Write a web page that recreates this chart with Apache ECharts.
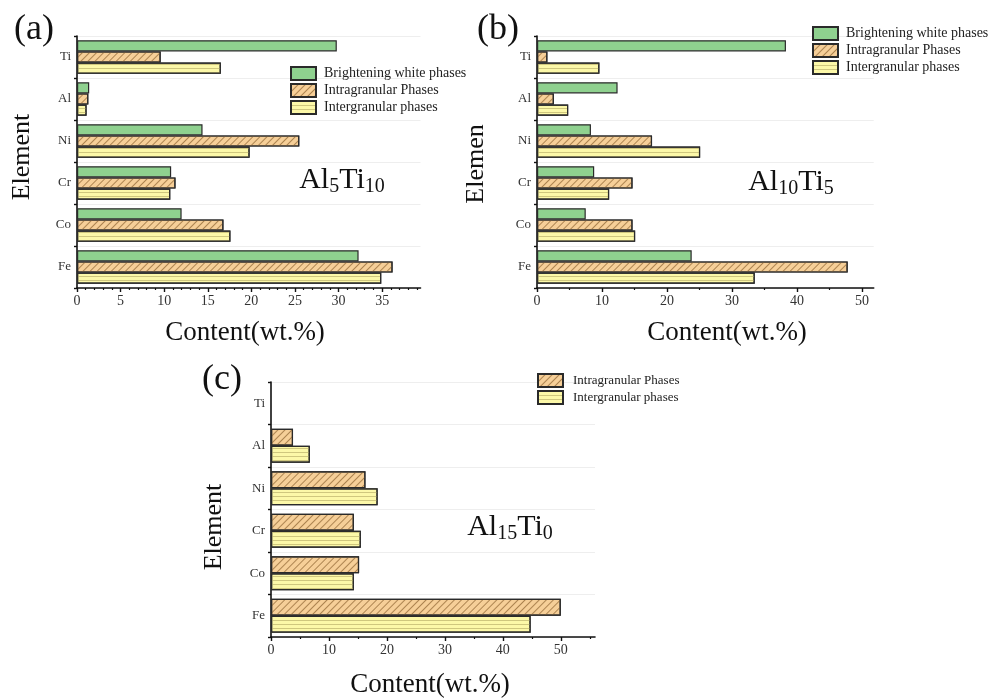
<!DOCTYPE html>
<html><head><meta charset="utf-8">
<script src="https://cdn.jsdelivr.net/npm/echarts@6/dist/echarts.min.js"></script>
<style>html,body{margin:0;padding:0;background:#fff}#c{width:1001px;height:699px}</style>
</head><body><div id="c"></div>
<script>
const categories = ['Fe', 'Co', 'Cr', 'Ni', 'Al', 'Ti'];
const seriesNames = ['Brightening white phases', 'Intragranular Phases', 'Intergranular phases'];
// Panel (a) Al5Ti10
const aWhite = [32.3, 12.0, 10.8, 14.4, 1.4, 29.8];
const aIntra = [36.2, 16.8, 11.3, 25.5, 1.3, 9.6];
const aInter = [34.9, 17.6, 10.7, 19.8, 1.1, 16.5];
// Panel (b) Al10Ti5
const bWhite = [23.8, 7.5, 8.8, 8.3, 12.4, 38.3];
const bIntra = [47.8, 14.7, 14.7, 17.7, 2.6, 1.6];
const bInter = [33.5, 15.1, 11.1, 25.1, 4.8, 9.6];
// Panel (c) Al15Ti0 (no Ti bars)
const cIntra = [50.0, 15.2, 14.3, 16.3, 3.8, null];
const cInter = [44.8, 14.3, 15.5, 18.4, 6.7, null];
// tick labels
const ticksA = [0, 5, 10, 15, 20, 25, 30, 35];
const ticksB = [0, 10, 20, 30, 40, 50];
const ticksC = [0, 10, 20, 30, 40, 50];
const minorA = [1,2,3,4,6,7,8,9,11,12,13,14,16,17,18,19,21,22,23,24,26,27,28,29,31,32,33,34,36,37,38,39];
const minorB = [5, 15, 25, 35, 45];
const minorC = [5, 15, 25, 35, 45, 55];

const FONT = '"Liberation Serif", "Times New Roman", serif';
const EDGE = '#2a2a2a';
const styleWhite = { color: '#8fd18f', borderColor: EDGE, borderWidth: 1.2 };
const styleIntra = { color: '#f6cf98', borderColor: EDGE, borderWidth: 1.2,
  decal: { symbol: 'rect', symbolSize: 1, color: '#ad8450', dashArrayX: [1, 0], dashArrayY: [1, 4], rotation: -Math.PI / 4 } };
const styleInter = { color: '#fcf8a8', borderColor: EDGE, borderWidth: 1.2,
  decal: { symbol: 'rect', symbolSize: 1, color: '#cfc77e', dashArrayX: [1, 0], dashArrayY: [1, 3], rotation: 0 } };

function xMain(gi, max, ticks) {
  return { type: 'value', gridIndex: gi, position: 'bottom', min: 0, max: max,
    axisLine: { show: true, lineStyle: { color: '#111', width: 1.6 } },
    axisTick: { show: true, customValues: ticks, length: 4, lineStyle: { color: '#111', width: 1.4 } },
    axisLabel: { customValues: ticks, fontFamily: FONT, fontSize: 14, color: '#333', margin: 6 },
    splitLine: { show: false } };
}
function xMinor(gi, max, minor) {
  return { type: 'value', gridIndex: gi, position: 'bottom', min: 0, max: max,
    axisLine: { show: false },
    axisTick: { show: true, customValues: minor, length: 2, lineStyle: { color: '#111', width: 1.2 } },
    axisLabel: { show: false }, splitLine: { show: false } };
}
function yCat(gi) {
  return { type: 'category', gridIndex: gi, data: categories,
    axisLine: { show: true, lineStyle: { color: '#111', width: 1.6 } },
    axisTick: { show: true, length: 3, lineStyle: { color: '#111', width: 1.4 } },
    axisLabel: { fontFamily: FONT, fontSize: 13, color: '#333', margin: 6 },
    splitLine: { show: true, lineStyle: { color: '#eeeeee', width: 1 } } };
}
function bar(name, gi, data, style) {
  return { type: 'bar', name: name, xAxisIndex: gi, yAxisIndex: gi, data: data,
    itemStyle: style, barGap: '0%', barCategoryGap: '20%', silent: true };
}
function legend(left, top, names, fs, gapTxt) {
  return { left: left, top: top, orient: 'vertical', data: names, icon: 'rect', itemWidth: 25, itemHeight: 13,
    itemGap: 2, padding: 0, selectedMode: false,
    textStyle: { fontFamily: FONT, fontSize: fs, color: '#222', padding: [0, 0, 0, gapTxt] } };
}
function txt(x, y, text, size, rot) {
  return { type: 'text', x: x, y: y, rotation: rot || 0,
    style: { text: text, fontFamily: FONT, fontSize: size, fill: '#111', align: 'center', verticalAlign: 'middle' } };
}
function formula(x, y, parts) {
  return { type: 'text', x: x, y: y,
    style: { text: parts, fontFamily: FONT, fill: '#111', align: 'center', verticalAlign: 'middle',
      rich: { m: { fontFamily: FONT, fontSize: 30, lineHeight: 34, fill: '#111' },
              s: { fontFamily: FONT, fontSize: 20, lineHeight: 34, fill: '#111', padding: [14, 0, 0, 0] } } } };
}

const chart = echarts.init(document.getElementById('c'), null, { renderer: 'canvas' });
chart.setOption({
  backgroundColor: '#fff',
  animation: false,
  grid: [
    { left: 77, top: 36, width: 343.5, height: 252 },
    { left: 537, top: 36, width: 336.7, height: 252 },
    { left: 271, top: 382, width: 324, height: 255 }
  ],
  xAxis: [ xMain(0, 39.4, ticksA), xMain(1, 51.8, ticksB), xMain(2, 55.9, ticksC),
           xMinor(0, 39.4, minorA), xMinor(1, 51.8, minorB), xMinor(2, 55.9, minorC) ],
  yAxis: [ yCat(0), yCat(1), yCat(2) ],
  legend: [
    legend(290, 66, seriesNames, 14, 3),
    legend(812, 26, seriesNames, 14, 3),
    legend(537, 373, [seriesNames[1], seriesNames[2]], 13, 5)
  ],
  series: [
    bar(seriesNames[0], 0, aWhite, styleWhite),
    bar(seriesNames[1], 0, aIntra, styleIntra),
    bar(seriesNames[2], 0, aInter, styleInter),
    bar(seriesNames[0], 1, bWhite, styleWhite),
    bar(seriesNames[1], 1, bIntra, styleIntra),
    bar(seriesNames[2], 1, bInter, styleInter),
    bar(seriesNames[1], 2, cIntra, styleIntra),
    bar(seriesNames[2], 2, cInter, styleInter)
  ],
  graphic: [
    txt(34, 30, '(a)', 36), txt(498, 30, '(b)', 36), txt(222, 380, '(c)', 36),
    txt(22, 157, 'Element', 26, Math.PI / 2),
    txt(476, 164, 'Elemen', 26, Math.PI / 2),
    txt(214, 527, 'Element', 26, Math.PI / 2),
    txt(245, 333, 'Content(wt.%)', 27),
    txt(727, 333, 'Content(wt.%)', 27),
    txt(430, 685, 'Content(wt.%)', 27),
    formula(342, 180, '{m|Al}{s|5}{m|Ti}{s|10}'),
    formula(791, 182, '{m|Al}{s|10}{m|Ti}{s|5}'),
    formula(510, 527, '{m|Al}{s|15}{m|Ti}{s|0}')
  ]
});
</script></body></html>
